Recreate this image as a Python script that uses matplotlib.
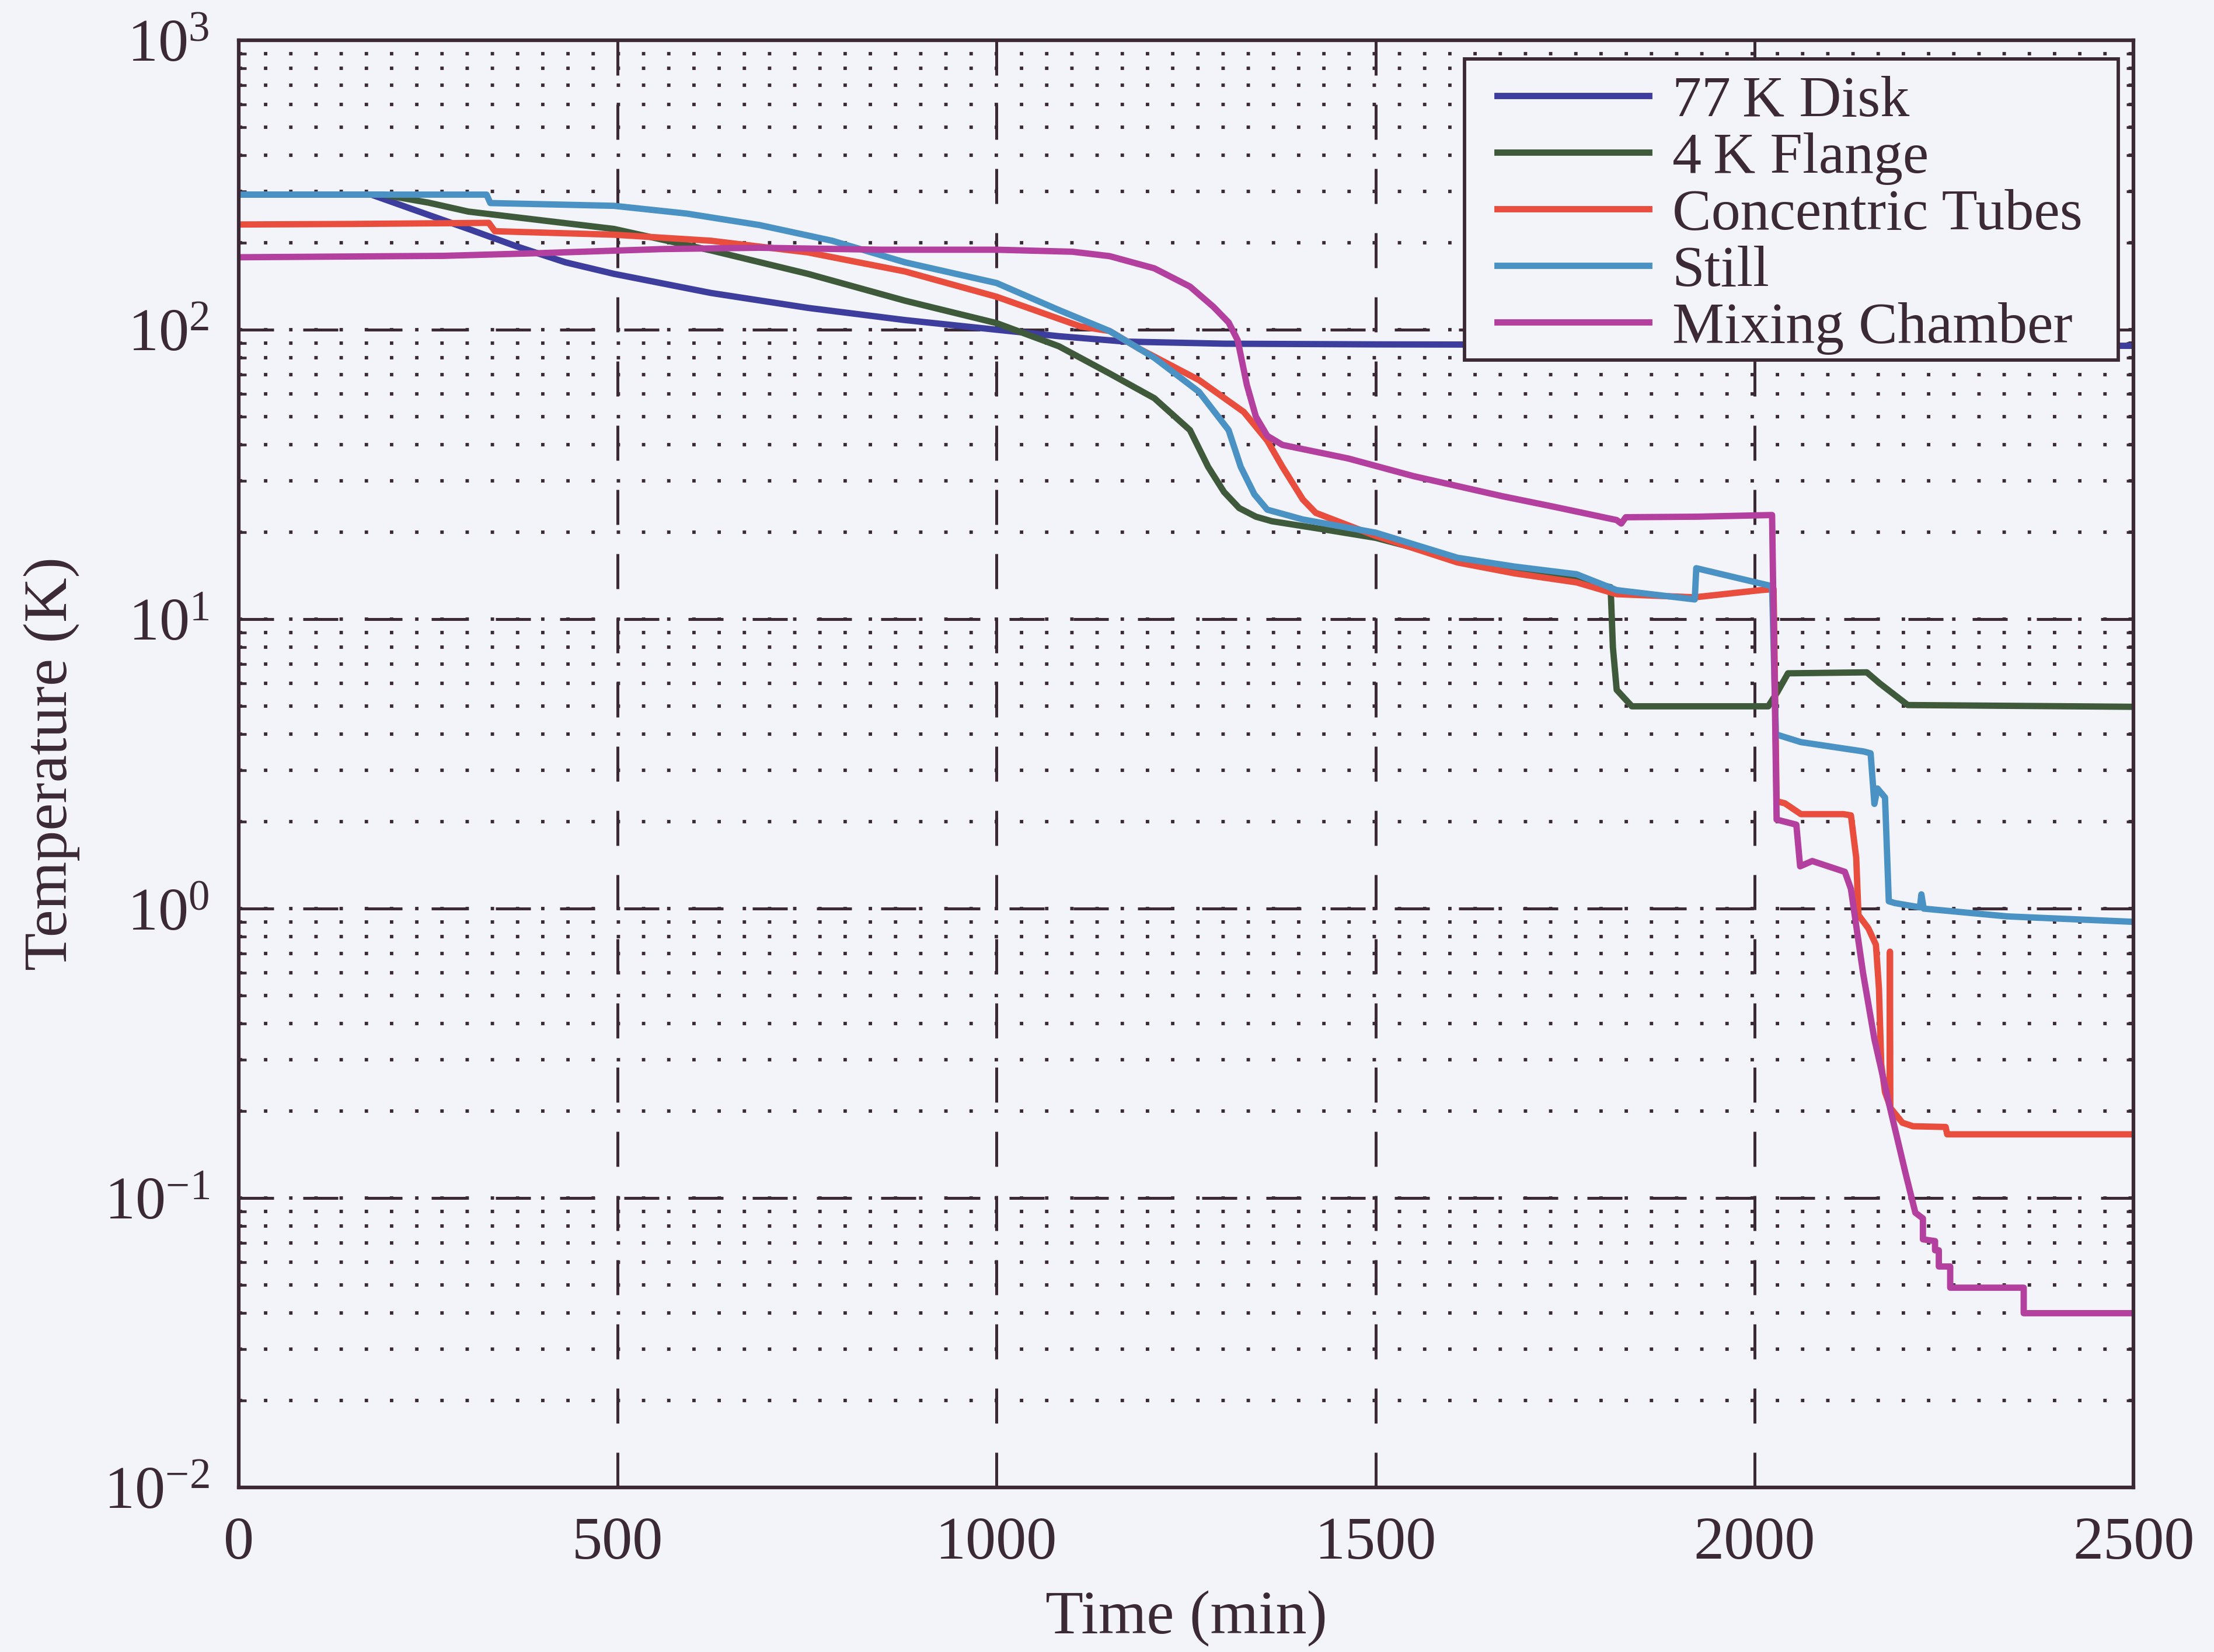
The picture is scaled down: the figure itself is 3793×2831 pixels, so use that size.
"""
Cool-down curves of the dilution refrigerator stages (log temperature vs time).
Values read off a scanned figure.
"""

import matplotlib
matplotlib.use("Agg")
import matplotlib.pyplot as plt
from matplotlib.patches import Rectangle
from matplotlib.ticker import LogLocator, NullFormatter, MultipleLocator

plt.rcParams["font.family"] = ["Liberation Serif", "DejaVu Serif"]
plt.rcParams["mathtext.fontset"] = "stix"

# --- data (time in min, temperature in K) ---------------------------------
disk_t = [0, 175, 238, 303, 367, 431, 495, 623, 751, 879, 1000, 1082, 1170,
          1300, 1500, 2000, 2500]
disk_T = [293, 293, 256, 223, 194, 171, 156, 134, 119, 108, 100, 95, 91,
          89.5, 89, 88.5, 88]

flange_t = [0, 190, 250, 303, 495, 623, 751, 879, 1000, 1082, 1149, 1208,
            1255, 1279, 1300, 1320, 1342, 1363, 1433, 1500, 1608, 1765, 1810,
            1813, 1818, 1838, 2018, 2030, 2044, 2148, 2165, 2202, 2500]
flange_T = [293, 293, 275, 256, 223, 188, 156, 126, 105.4, 87.7, 70.6, 58,
            45, 33.6, 27.5, 24.2, 22.6, 21.8, 20.4, 19.1, 16.1, 13.7, 12.9,
            8.0, 5.7, 5.0, 5.0, 5.6, 6.5, 6.55, 6.0, 5.05, 4.98]

tubes_t = [0, 150, 330, 338, 495, 623, 751, 879, 1000, 1111, 1149, 1188,
           1267, 1326, 1357, 1377, 1404, 1421, 1500, 1608, 1683, 1765, 1818,
           1921, 2008, 2025, 2029, 2040, 2061, 2117, 2127, 2134, 2137, 2150,
           2160, 2164, 2167, 2172, 2178, 2178.5, 2179, 2195, 2209, 2252, 2254,
           2500]
tubes_T = [231, 232, 234, 219, 213, 203, 185, 159, 130, 102.6, 99, 86,
           67, 52, 41.4, 33.6, 25.9, 23.3, 19.4, 15.7, 14.4, 13.4, 12.2,
           11.9, 12.6, 12.7, 2.35, 2.31, 2.12, 2.12, 2.10, 1.5, 0.95, 0.855,
           0.75, 0.53, 0.29, 0.232, 0.21, 0.71, 0.205, 0.182, 0.177, 0.176,
           0.166, 0.166]

still_t = [0, 327, 332, 495, 591, 687, 783, 879, 1000, 1082, 1149, 1208,
           1267, 1306, 1322, 1340, 1357, 1404, 1500, 1608, 1683, 1765, 1818,
           1921, 1923, 2023, 2028, 2061, 2144, 2153, 2158, 2162, 2172, 2177,
           2185, 2218, 2220, 2223, 2333, 2500]
still_T = [293, 293, 274, 268, 252, 230, 203, 171, 145, 117, 99, 80,
           61, 45, 33.6, 27, 23.9, 22.1, 19.9, 16.3, 15.2, 14.3, 12.6,
           11.7, 15.0, 13.0, 4.0, 3.76, 3.49, 3.44, 2.3, 2.6, 2.42, 1.06,
           1.045, 1.01, 1.12, 1.0, 0.94, 0.90]

mc_t = [0, 270, 399, 559, 687, 848, 1000, 1100, 1149, 1208, 1255, 1286,
        1306, 1318, 1330, 1342, 1357, 1377, 1464, 1550, 1667, 1737, 1818,
        1824, 1830, 1925, 2023, 2029, 2055, 2060, 2076, 2119, 2127, 2143,
        2158, 2178, 2199, 2212, 2222, 2222, 2238, 2238, 2243, 2243, 2258,
        2258, 2355, 2355, 2500]
mc_T = [178, 180, 184, 190, 192, 189, 189, 186, 179.6, 163, 141, 120,
        106, 92, 64.6, 50.1, 43, 40, 35.9, 31.2, 26.6, 24.4, 22.0,
        21.4, 22.5, 22.6, 22.9, 2.03, 1.95, 1.40, 1.46, 1.34, 1.17, 0.60,
        0.354, 0.208, 0.122, 0.089, 0.085, 0.072, 0.071, 0.066, 0.066, 0.058,
        0.058, 0.049, 0.049, 0.040, 0.040]

labels = ["77\u2009K Disk", "4\u2009K Flange", "Concentric Tubes", "Still",
          "Mixing Chamber"]
colors = ["#3d3d9e", "#3e5a3b", "#e84d3e", "#4b92c4", "#b3409f"]

ink = "#3b2a35"
paper = "#f3f4fa"

fig = plt.figure(figsize=(3793 / 300, 2831 / 300), dpi=300, facecolor=paper)
ax = fig.add_axes([0.1078, 0.0996, 0.8559, 0.8760], facecolor=paper)

series = [(disk_t, disk_T), (flange_t, flange_T), (tubes_t, tubes_T),
          (still_t, still_T), (mc_t, mc_T)]
for (t, T), lab, c in zip(series, labels, colors):
    ax.plot(t, T, color=c, lw=2.6, label=lab, solid_joinstyle="round")

ax.set_yscale("log")
ax.set_xlim(0, 2500)
ax.set_ylim(1e-2, 1e3)
ax.xaxis.set_major_locator(MultipleLocator(500))
ax.yaxis.set_major_locator(LogLocator(base=10, numticks=10))
ax.yaxis.set_minor_locator(LogLocator(base=10, subs=range(1, 10), numticks=20))
ax.yaxis.set_minor_formatter(NullFormatter())
ax.yaxis.remove_overlapping_locs = False

# matlab-ish grid: dashed majors, dotted log minors
ax.grid(which="major", color=ink, lw=1.2, linestyle=(0, (12, 10)))
ax.grid(which="minor", axis="y", color=ink, lw=1.4, linestyle=(0, (1, 6.4)))
ax.set_axisbelow(True)

ax.tick_params(which="both", direction="in", top=True, right=True,
               colors=ink, labelsize=25)
ax.tick_params(which="major", length=6, width=1.1, pad=12)
ax.tick_params(which="minor", length=3, width=1.1)
for s in ax.spines.values():
    s.set_color(ink)
    s.set_linewidth(1.5)

ax.set_xlabel("Time (min)", fontsize=25.5, color=ink, labelpad=8)
ax.set_ylabel("Temperature (K)", fontsize=25.5, color=ink, labelpad=10)

# legend box drawn separately: wide side padding, tight top/bottom
ax.add_patch(Rectangle((0.647, 0.779), 0.345, 0.208, transform=ax.transAxes,
                       facecolor=paper, edgecolor=ink, lw=1.4, zorder=4.5))
leg = ax.legend(loc="upper left", bbox_to_anchor=(0.664, 0.976),
                fontsize=24, frameon=False, borderpad=0, borderaxespad=0,
                handlelength=2.6, handletextpad=0.4, labelspacing=0.06)
leg.set_zorder(5)
for txt in leg.get_texts():
    txt.set_color(ink)

fig.savefig("out.png", dpi=300, facecolor=paper)
